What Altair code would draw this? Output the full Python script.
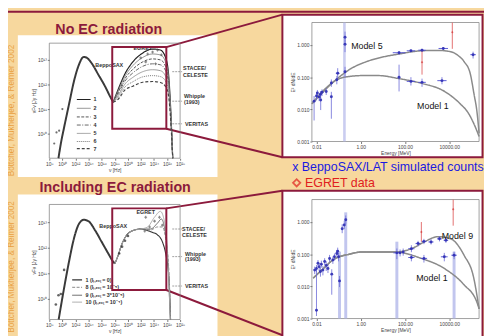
import json
import altair as alt
import pandas as pd

W, H = 484, 328
MAROON = "#8c1a3c"
BG = "#f7d89e"
ORANGE = "#e9a040"
FONT = "Liberation Sans"

# ---------------- left panels (log10 nu [Hz], log10 nuFnu [Jy Hz]) ----------------
TL_SYN_LNU = [9.40, 9.76, 10.26, 11.01, 11.76, 12.51, 13.26, 13.76, 14.51, 15.52, 16.53, 17.28, 17.77]
TL_SYN_LF = [9.00, 9.59, 10.25, 11.19, 12.12, 12.79, 13.12, 13.08, 12.85, 12.39, 11.92, 11.52, 11.28]
TL_IC_LNU = [17.77, 18.53, 19.58, 20.78, 22.29, 23.79, 24.99, 25.74, 26.20, 26.50, 26.87]
TL_IC_LF = {
    "1": [11.28, 11.80, 12.44, 12.92, 13.28, 13.44, 13.40, 13.12, 12.52, 11.32, 9.0],
    "2": [11.28, 11.74, 12.34, 12.77, 13.10, 13.24, 13.20, 12.94, 12.38, 11.24, 9.0],
    "3": [11.28, 11.68, 12.24, 12.62, 12.92, 13.04, 13.00, 12.76, 12.24, 11.16, 9.0],
    "4": [11.28, 11.62, 12.14, 12.47, 12.74, 12.84, 12.80, 12.58, 12.10, 11.08, 9.0],
    "5": [11.28, 11.55, 12.02, 12.29, 12.52, 12.60, 12.56, 12.36, 11.93, 10.98, 9.0],
    "6": [11.28, 11.48, 11.90, 12.11, 12.31, 12.36, 12.32, 12.15, 11.76, 10.89, 9.0],
    "7": [11.28, 11.40, 11.78, 11.93, 12.09, 12.12, 12.08, 11.93, 11.60, 10.79, 9.0],
}
TL_LEG_LNU = [12.21, 14.32]
TL_LEG_LABEL_LNU = 14.77
TL_LEG_LF = [11.39, 11.03, 10.68, 10.35, 10.01, 9.68, 9.39]
TL_RADIO_LNU = [8.75, 9.10, 9.50, 10.0]
TL_RADIO_LF = [9.6, 10.05, 10.12, 11.0]
TL_EGRET_LNU = [21.98, 23.04, 23.79, 24.54, 25.14, 22.74, 24.24]
TL_EGRET_LF = [13.08, 13.24, 13.32, 13.40, 13.20, 12.92, 12.84]
TL_NOTES = ["BeppoSAX", "EGRET", "STACEE/", "CELESTE", "Whipple", "(1993)", "VERITAS"]
TL_NOTES_LNU = [17.17, 22.29, 28.45, 28.45, 28.60, 28.60, 28.75]
TL_NOTES_LF = [12.80, 13.48, 12.68, 12.40, 11.52, 11.28, 10.40]
TL_NOTES_ALIGN = ["center", "center", "left", "left", "left", "left", "left"]
TL_SENS_LF = [12.52, 11.32, 10.40]

LB_SYN_LNU = [9.43, 10.26, 11.01, 11.76, 12.51, 13.26, 14.02, 15.02, 16.02, 17.02, 17.77, 18.03]
LB_SYN_LF = [9.19, 10.42, 11.45, 12.35, 12.92, 13.09, 13.03, 12.67, 12.22, 11.77, 11.45, 11.38]
LB_IC_BASE_LNU = [18.03, 18.53, 19.02, 19.77, 20.78, 22.03]
LB_IC_BASE_LF = [11.38, 11.70, 12.09, 12.47, 12.67, 12.73]
LB_IC_TAIL = {
    "1": ([23.53, 24.54, 25.29, 25.79, 26.30, 26.54], [12.62, 12.50, 12.23, 11.77, 10.81, 9.19]),
    "8": ([23.49, 24.54, 25.29, 25.79, 26.30, 26.54], [12.69, 12.81, 12.81, 12.35, 11.00, 9.19]),
    "9": ([23.49, 24.54, 25.14, 25.59, 26.05, 26.50], [12.73, 12.96, 13.12, 12.81, 11.77, 9.19]),
    "10": ([23.04, 24.08, 24.99, 25.59, 26.05, 26.50], [12.81, 13.19, 13.42, 13.04, 11.96, 9.19]),
}
LB_LEG_TEXT = ["1 (lₗ,ₑₓₜ = 0)", "8 (lₗ,ₑₓₜ = 10⁻⁵)", "9 (lₗ,ₑₓₜ = 3*10⁻⁵)", "10 (lₗ,ₑₓₜ = 10⁻⁴)"]
LB_LEG_LNU = [11.50, 13.01]
LB_LEG_LABEL_LNU = 13.52
LB_LEG_LF = [10.74, 10.45, 10.14, 9.87]
LB_RADIO_LNU = [9.0, 9.40, 9.76, 10.26]
LB_RADIO_LF = [9.78, 10.14, 10.19, 11.13]
LB_SAX_LNU = [18.68, 19.13, 19.58, 20.03]
LB_SAX_LF = [11.77, 12.04, 12.27, 12.46]
LB_EGRET_LNU = [22.59, 23.34, 24.09, 24.84, 25.29, 22.74]
LB_EGRET_LF = [12.65, 12.81, 13.04, 13.19, 12.88, 13.19]
LB_NOTES = ["BeppoSAX", "EGRET", "STACEE/", "CELESTE", "Whipple", "(1993)", "VERITAS"]
LB_NOTES_LNU = [17.77, 22.74, 28.30, 28.30, 28.75, 28.75, 28.75]
LB_NOTES_LF = [12.85, 13.38, 12.73, 12.50, 11.77, 11.54, 10.50]
LB_NOTES_ALIGN = ["center", "center", "left", "left", "left", "left", "left"]
LB_SENS_LF = [12.73, 11.65, 10.50]
SENS_LNU = [26.8, 28.3]

# ---------------- right panels (Energy [MeV], E^2 dN/dE) ----------------
RT_M5_E = [0.0062, 0.0234, 0.089, 0.37, 1.74, 11, 50, 525, 3000, 11500, 26300, 47900, 89000, 132000, 182000, 224000]
RT_M5_Y = [0.0148, 0.039, 0.091, 0.186, 0.30, 0.43, 0.52, 0.66, 0.68, 0.62, 0.46, 0.30, 0.13, 0.030, 0.0078, 0.0018]
RT_M1_E = [0.0062, 0.0234, 0.089, 0.30, 1.15, 6.5, 50, 525, 6200, 31600, 72000, 132000, 224000]
RT_M1_Y = [0.0148, 0.042, 0.085, 0.105, 0.112, 0.112, 0.091, 0.065, 0.036, 0.0148, 0.0078, 0.0035, 0.00144]
RT_E = [0.0078, 0.010, 0.011, 0.0132, 0.0151, 0.0178, 0.0155, 0.0275, 0.047, 0.047, 0.083, 0.091,
        0.195, 0.195, 0.195, 54, 186, 590, 5400, 120000, 54, 186, 590, 4700]
RT_Y = [0.018, 0.026, 0.032, 0.024, 0.0295, 0.034, 0.0195, 0.036, 0.0245, 0.066, 0.083, 0.132,
        0.148, 1.05, 1.74, 0.575, 0.66, 0.69, 0.78, 0.50, 0.10, 0.074, 0.069, 0.078]
RT_YLO = [0.0045, 0.019, 0.024, 0.018, 0.022, 0.026, 0.0095, 0.028, 0.0051, 0.050, 0.060, 0.090,
          0.100, 0.60, 1.2, 0.50, 0.60, 0.62, 0.70, 0.38, 0.036, 0.055, 0.050, 0.060]
RT_YHI = [0.026, 0.034, 0.040, 0.030, 0.037, 0.042, 0.028, 0.045, 0.035, 0.085, 0.11, 0.19,
          0.21, 1.5, 2.6, 0.65, 0.72, 0.76, 0.86, 0.62, 0.245, 0.10, 0.090, 0.10]
RT_HB_Y = [0.575, 0.66, 0.69, 0.78, 0.50, 0.074, 0.069, 0.078, 0.132]
RT_HB_LO = [28, 120, 400, 3300, 90000, 120, 400, 2900, 0.075]
RT_HB_HI = [105, 290, 870, 8800, 160000, 290, 870, 7600, 0.11]
RT_BAND_LO = [0.16]
RT_BAND_HI = [0.21]
RT_RED_E = [590, 13800]
RT_RED_Y = [0.29, 2.5]
RT_RED_LO = [0.12, 0.76]
RT_RED_HI = [0.69, 5.0]
RT_NOTES = ["Model 5", "Model 1"]
RT_NOTES_E = [1.9, 1820]
RT_NOTES_Y = [0.93, 0.0126]

RB_M1_E = [0.0071, 0.019, 0.055, 0.30, 1.17, 36, 550, 6000, 46800, 182000, 224000]
RB_M1_Y = [0.018, 0.034, 0.066, 0.100, 0.117, 0.117, 0.074, 0.036, 0.0112, 0.0031, 0.0020]
RB_M9_E = [0.0071, 0.019, 0.055, 0.30, 1.17, 36, 195, 776, 3020, 11700, 46800, 129000, 224000]
RB_M9_Y = [0.018, 0.034, 0.066, 0.100, 0.117, 0.117, 0.148, 0.245, 0.35, 0.30, 0.093, 0.018, 0.0020]
RB_E = [0.0083, 0.010, 0.0117, 0.0132, 0.0151, 0.0166, 0.0195, 0.0234, 0.0275, 0.033, 0.039, 0.049,
        0.055, 0.065, 0.083, 0.091, 0.10, 0.11, 0.010, 0.145, 0.18, 0.21, 43, 60, 83, 195, 195, 390,
        720, 720, 1510, 3630, 7100, 6000, 16600]
RB_Y = [0.032, 0.036, 0.052, 0.041, 0.029, 0.049, 0.032, 0.059, 0.045, 0.036, 0.074, 0.024,
        0.066, 0.083, 0.105, 0.123, 0.083, 0.0148, 0.0018, 0.62, 0.81, 1.17, 0.11, 0.11, 0.117, 0.148,
        0.079, 0.214, 0.25, 0.074, 0.24, 0.30, 0.27, 0.083, 0.093]
RB_YLO = [0.024, 0.028, 0.040, 0.030, 0.020, 0.038, 0.022, 0.046, 0.030, 0.026, 0.058, 0.0055,
          0.050, 0.064, 0.082, 0.095, 0.060, 0.0095, 0.0012, 0.45, 0.60, 0.85, 0.070, 0.085, 0.090,
          0.115, 0.060, 0.175, 0.205, 0.055, 0.200, 0.250, 0.225, 0.060, 0.070]
RB_YHI = [0.041, 0.046, 0.066, 0.053, 0.039, 0.063, 0.043, 0.075, 0.060, 0.048, 0.095, 0.034,
          0.085, 0.105, 0.135, 0.160, 0.108, 0.021, 0.032, 0.85, 1.10, 1.60, 0.150, 0.140, 0.150,
          0.190, 0.100, 0.260, 0.300, 0.095, 0.290, 0.360, 0.330, 0.110, 0.120]
RB_HB_Y = [0.148, 0.079, 0.214, 0.25, 0.074, 0.24, 0.30, 0.27, 0.083, 0.093, 0.11]
RB_HB_LO = [140, 140, 300, 560, 520, 1150, 2800, 5600, 4200, 12500, 30]
RB_HB_HI = [270, 270, 500, 930, 1000, 1950, 4700, 9000, 8500, 22000, 60]
RB_BAND_E = [0.11, 0.21, 43, 16600]
RB_BAND_TOP = [0.12, 2.0, 0.245, 0.12]
RB_RED_E = [550, 15100]
RB_RED_Y = [0.49, 2.5]
RB_RED_LO = [0.245, 0.77]
RB_RED_HI = [1.0, 5.0]
RB_NOTES = ["Model 9", "Model 1"]
RB_NOTES_E = [23400, 1660]
RB_NOTES_Y = [0.37, 0.018]

E_TICKS = [0.01, 1, 100, 10000]
Y_TICKS = [0.001, 0.01, 0.1, 1]

# ---------------- helpers ----------------
SUP = str.maketrans("0123456789", "⁰¹²³⁴⁵⁶⁷⁸⁹")
EXP_LABELS = ["10" + str(n).translate(SUP) for n in range(30)]
EXP_EXPR = json.dumps(EXP_LABELS, ensure_ascii=False) + "[round(datum.value)]"


def sc_lin(dom, rng):
    return alt.Scale(type="linear", domain=dom, range=rng, zero=False, nice=False)


def sc_log(dom, rng):
    return alt.Scale(type="log", domain=dom, range=rng, nice=False)


TLX = sc_lin([8, 28], [42, 175]); TLY = sc_lin([9.0, 13.68], [150, 33])
LBX = sc_lin([8, 28], [42, 175]); LBY = sc_lin([9.19, 13.69], [314, 197])
RTX = sc_log([0.0062, 224000], [309, 479]); RTY = sc_log([0.001, 5.0], [133, 12])
RBX = sc_log([0.0062, 224000], [309, 479]); RBY = sc_log([0.001, 5.0], [313, 192])

AX = dict(labelFontSize=5, labelColor="#444", tickSize=2, tickColor="#777", domain=False,
          grid=False, labelPadding=1, labelFlush=False, labelOverlap=False, titleFontSize=5,
          titleFontWeight="normal", titleColor="#444", titlePadding=1, zindex=2)


def ax_b(ypix, **kw):
    return alt.Axis(orient="bottom", offset=ypix - H, **{**AX, **kw})


def ax_l(xpix, **kw):
    return alt.Axis(orient="left", offset=-xpix, **{**AX, **kw})


def enc(xs, ys, xf="x", yf="y", xaxis=None, yaxis=None):
    return dict(x=alt.X(f"{xf}:Q", scale=xs, axis=xaxis), y=alt.Y(f"{yf}:Q", scale=ys, axis=yaxis))


def line(df, xs, ys, color, width=1.0, dash=(1, 0), **kw):
    return alt.Chart(df).mark_line(color=color, strokeWidth=width, strokeDash=list(dash),
                                   interpolate="monotone").encode(**enc(xs, ys, **kw))


def frame(x0, x1, y0, y1, stroke="#777", width=0.7):
    return alt.Chart(pd.DataFrame({"k": [0]})).mark_rect(fillOpacity=0, stroke=stroke, strokeWidth=width).encode(
        x=alt.value(x0), x2=alt.value(x1), y=alt.value(y0), y2=alt.value(y1))


def notes(df, xs, ys, **mk):
    return alt.Chart(df).mark_text(**mk).encode(**enc(xs, ys), text="t:N")


def axes_layer(xs, ys, xaxis, yaxis, xv, yv):
    # invisible points at the panel's tick values, carrying the panel's axes
    df = pd.DataFrame({"x": [xv[0], xv[-1]], "y": [yv[0], yv[-1]]})
    return alt.Chart(df).mark_point(opacity=0).encode(**enc(xs, ys, xaxis=xaxis, yaxis=yaxis))


layers = []

# ---------------- slide decoration (pixel layout) ----------------
PX = dict(scale=None)
layers.append(alt.Chart(pd.DataFrame({"x": [10, 10], "x2": [213, 213], "y": [25, 187], "y2": [169, 332]})).mark_rect(
    color="white").encode(x=alt.X("x:Q", **PX), x2="x2:Q", y=alt.Y("y:Q", **PX), y2="y2:Q"))
layers.append(alt.Chart(pd.DataFrame({"x": [279, 279], "x2": [482.5, 482.5], "y": [4, 183], "y2": [149, 334]})).mark_rect(
    fill="white", stroke=MAROON, strokeWidth=2).encode(x=alt.X("x:Q", **PX), x2="x2:Q", y=alt.Y("y:Q", **PX), y2="y2:Q"))
layers.append(alt.Chart(pd.DataFrame({"x": [161] * 4, "y": [37, 120, 201, 284], "x2": [279] * 4,
                                      "y2": [4, 149, 183, 330]})).mark_rule(color=MAROON, strokeWidth=2).encode(
    x=alt.X("x:Q", **PX), x2="x2:Q", y=alt.Y("y:Q", **PX), y2="y2:Q"))

# ---------------- top-left panel ----------------
layers.append(frame(42, 175, 33, 150))
layers.append(axes_layer(TLX, TLY,
                         ax_b(150, values=list(range(8, 29, 2)), labelExpr=EXP_EXPR, title="ν [Hz]"),
                         ax_l(42, values=[10, 11, 12, 13], labelExpr=EXP_EXPR, title="νFν [Jy Hz]"),
                         [8, 28], [10, 13]))
layers.append(line(pd.DataFrame({"x": TL_SYN_LNU, "y": TL_SYN_LF}), TLX, TLY, "#3a3a3a", 2.0))
TL_STYLE = {"1": ("#222", 1.2, (1, 0)), "2": ("#888", 1.0, (1, 0)), "3": ("#555", 1.0, (3, 1.5)),
            "4": ("#666", 1.0, (4, 1.5, 1, 1.5)), "5": ("#999", 1.0, (1, 0)), "6": ("#777", 1.0, (1, 1)),
            "7": ("#444", 1.2, (3, 2))}
for i, (m, lfs) in enumerate(TL_IC_LF.items()):
    c, w, d = TL_STYLE[m]
    layers.append(line(pd.DataFrame({"x": TL_IC_LNU, "y": lfs}), TLX, TLY, c, w, d))
    layers.append(line(pd.DataFrame({"x": TL_LEG_LNU, "y": [TL_LEG_LF[i]] * 2}), TLX, TLY, c, w, d))
layers.append(notes(pd.DataFrame({"x": [TL_LEG_LABEL_LNU] * 7, "y": TL_LEG_LF, "t": list(TL_IC_LF)}),
                    TLX, TLY, align="left", baseline="middle", fontSize=5.5, fontWeight="bold", color="#333"))
layers.append(alt.Chart(pd.DataFrame({"x": TL_RADIO_LNU, "y": TL_RADIO_LF})).mark_point(
    shape="circle", filled=True, size=5, color="#333").encode(**enc(TLX, TLY)))
layers.append(alt.Chart(pd.DataFrame({"x": TL_EGRET_LNU, "y": TL_EGRET_LF})).mark_point(
    shape="cross", filled=True, size=8, color="#555").encode(**enc(TLX, TLY)))
for lf in TL_SENS_LF:
    layers.append(line(pd.DataFrame({"x": SENS_LNU, "y": [lf, lf]}), TLX, TLY, "#777", 0.7, (2, 1)))
for al in ("center", "left"):
    sub = pd.DataFrame({"x": TL_NOTES_LNU, "y": TL_NOTES_LF, "t": TL_NOTES, "a": TL_NOTES_ALIGN})
    sub = sub[sub.a == al]
    layers.append(notes(sub, TLX, TLY, align=al, baseline="middle", fontSize=5.5, fontWeight="bold", color="#333"))

# ---------------- bottom-left panel ----------------
layers.append(frame(42, 175, 197, 314))
layers.append(axes_layer(LBX, LBY,
                         ax_b(314, values=list(range(8, 29, 2)), labelExpr=EXP_EXPR, title="ν [Hz]"),
                         ax_l(42, values=[10, 11, 12, 13], labelExpr=EXP_EXPR, title="νFν [Jy Hz]"),
                         [8, 28], [10, 13]))
layers.append(line(pd.DataFrame({"x": LB_SYN_LNU, "y": LB_SYN_LF}), LBX, LBY, "#3a3a3a", 2.0))
LB_STYLE = {"1": ("#333", 1.1, (1, 0)), "8": ("#888", 1.0, (3, 1.5)), "9": ("#666", 1.0, (1, 0)),
            "10": ("#aaa", 1.0, (1, 0))}
for i, (m, (tx, ty)) in enumerate(LB_IC_TAIL.items()):
    c, w, d = LB_STYLE[m]
    layers.append(line(pd.DataFrame({"x": LB_IC_BASE_LNU + tx, "y": LB_IC_BASE_LF + ty}), LBX, LBY, c, w, d))
    layers.append(line(pd.DataFrame({"x": LB_LEG_LNU, "y": [LB_LEG_LF[i]] * 2}), LBX, LBY, c, w, d))
layers.append(notes(pd.DataFrame({"x": [LB_LEG_LABEL_LNU] * 4, "y": LB_LEG_LF, "t": LB_LEG_TEXT}),
                    LBX, LBY, align="left", baseline="middle", fontSize=5.5, fontWeight="bold", color="#333"))
layers.append(alt.Chart(pd.DataFrame({"x": LB_RADIO_LNU + LB_SAX_LNU, "y": LB_RADIO_LF + LB_SAX_LF})).mark_point(
    shape="circle", filled=True, size=7, color="#222").encode(**enc(LBX, LBY)))
layers.append(alt.Chart(pd.DataFrame({"x": LB_EGRET_LNU, "y": LB_EGRET_LF})).mark_point(
    shape="cross", filled=True, size=8, color="#555").encode(**enc(LBX, LBY)))
for lf in LB_SENS_LF:
    layers.append(line(pd.DataFrame({"x": SENS_LNU, "y": [lf, lf]}), LBX, LBY, "#777", 0.7, (2, 1)))
for al in ("center", "left"):
    sub = pd.DataFrame({"x": LB_NOTES_LNU, "y": LB_NOTES_LF, "t": LB_NOTES, "a": LB_NOTES_ALIGN})
    sub = sub[sub.a == al]
    layers.append(notes(sub, LBX, LBY, align=al, baseline="middle", fontSize=5.5, fontWeight="bold", color="#333"))


# ---------------- right panels ----------------
def gamma_layers(xs, ys, ytop_pix, ybot_pix, curves, E, Y, YLO, YHI, HB_Y, HB_LO, HB_HI,
                 band, RED, NOTES):
    L = [frame(309, 479, ytop_pix, ybot_pix), band]
    L.append(axes_layer(xs, ys,
                        ax_b(ybot_pix, values=E_TICKS, format=".2f", title="Energy [MeV]"),
                        ax_l(309, values=Y_TICKS, format=".3f", title="E² dN/dE"),
                        E_TICKS, Y_TICKS))
    for ce, cy in curves:
        L.append(line(pd.DataFrame({"x": ce, "y": cy}), xs, ys, "#8a8a8a", 1.5))
    pts = pd.DataFrame({"x": E, "y": Y, "lo": YLO, "hi": YHI})
    L.append(alt.Chart(pts).mark_rule(color="#6a6ad6", strokeWidth=0.8).encode(
        x=alt.X("x:Q", scale=xs, axis=None), y=alt.Y("lo:Q", scale=ys, axis=None), y2="hi:Q"))
    hb = pd.DataFrame({"lo": HB_LO, "hi": HB_HI, "y": HB_Y})
    L.append(alt.Chart(hb).mark_rule(color="#4a4ad0", strokeWidth=0.9).encode(
        x=alt.X("lo:Q", scale=xs, axis=None), x2="hi:Q", y=alt.Y("y:Q", scale=ys, axis=None)))
    re, ry, rlo, rhi = RED
    red = pd.DataFrame({"x": re, "y": ry, "lo": rlo, "hi": rhi})
    L.append(alt.Chart(red).mark_rule(color="#e06060", strokeWidth=0.9).encode(
        x=alt.X("x:Q", scale=xs, axis=None), y=alt.Y("lo:Q", scale=ys, axis=None), y2="hi:Q"))
    L.append(alt.Chart(red).mark_point(shape="diamond", filled=True, size=6, color="#d03030").encode(
        **enc(xs, ys)))
    L.append(alt.Chart(pts).mark_point(shape="circle", filled=True, size=9, color="#2f2fb4", opacity=0.9).encode(
        **enc(xs, ys)))
    nt, ne, ny = NOTES
    L.append(notes(pd.DataFrame({"x": ne, "y": ny, "t": nt}), xs, ys, align="center", baseline="middle",
                   fontSize=9, color="#111"))
    return L


rt_band = alt.Chart(pd.DataFrame({"lo": RT_BAND_LO, "hi": RT_BAND_HI})).mark_rect(
    color="#b3b8ea", opacity=0.7).encode(x=alt.X("lo:Q", scale=RTX, axis=None), x2="hi:Q",
                                          y=alt.value(12), y2=alt.value(133))
rb_band = alt.Chart(pd.DataFrame({"x": RB_BAND_E, "top": RB_BAND_TOP})).mark_rule(
    color="#b3b8ea", strokeWidth=3, opacity=0.8).encode(x=alt.X("x:Q", scale=RBX, axis=None),
                                                        y=alt.Y("top:Q", scale=RBY, axis=None), y2=alt.value(313))

layers += gamma_layers(RTX, RTY, 12, 133, [(RT_M5_E, RT_M5_Y), (RT_M1_E, RT_M1_Y)],
                       RT_E, RT_Y, RT_YLO, RT_YHI, RT_HB_Y, RT_HB_LO, RT_HB_HI, rt_band,
                       (RT_RED_E, RT_RED_Y, RT_RED_LO, RT_RED_HI), (RT_NOTES, RT_NOTES_E, RT_NOTES_Y))
layers += gamma_layers(RBX, RBY, 192, 313, [(RB_M9_E, RB_M9_Y), (RB_M1_E, RB_M1_Y)],
                       RB_E, RB_Y, RB_YLO, RB_YHI, RB_HB_Y, RB_HB_LO, RB_HB_HI, rb_band,
                       (RB_RED_E, RB_RED_Y, RB_RED_LO, RB_RED_HI), (RB_NOTES, RB_NOTES_E, RB_NOTES_Y))

# ---------------- overlays ----------------
layers.append(alt.Chart(pd.DataFrame({"x": [106, 106], "x2": [161, 161], "y": [37, 201], "y2": [120, 284]})).mark_rect(
    fillOpacity=0, stroke=MAROON, strokeWidth=2).encode(x=alt.X("x:Q", **PX), x2="x2:Q", y=alt.Y("y:Q", **PX), y2="y2:Q"))
layers.append(alt.Chart(pd.DataFrame({"t": ["No EC radiation", "Including EC radiation"], "x": [102.5, 109], "y": [24, 184]})).mark_text(
    fontSize=14.5, fontWeight="bold", color=MAROON, align="center", baseline="alphabetic").encode(
    x=alt.X("x:Q", **PX), y=alt.Y("y:Q", **PX), text="t:N"))
layers.append(alt.Chart(pd.DataFrame({"t": ["Böttcher, Mukherjee, & Reimer 2002"] * 2, "x": [4, 4], "y": [101.5, 260.5]})).mark_text(
    fontSize=8.3, color=ORANGE, angle=270, align="center", baseline="middle").encode(
    x=alt.X("x:Q", **PX), y=alt.Y("y:Q", **PX), text="t:N"))
layers.append(alt.Chart(pd.DataFrame({"t": ["x BeppoSAX/LAT simulated counts"], "x": [289], "y": [163]})).mark_text(
    fontSize=12.6, color="#1a1ae0", align="left", baseline="alphabetic").encode(
    x=alt.X("x:Q", **PX), y=alt.Y("y:Q", **PX), text="t:N"))
layers.append(alt.Chart(pd.DataFrame({"t": ["EGRET data"], "x": [302], "y": [179]})).mark_text(
    fontSize=12.6, color="#e0201e", align="left", baseline="alphabetic").encode(
    x=alt.X("x:Q", **PX), y=alt.Y("y:Q", **PX), text="t:N"))
layers.append(alt.Chart(pd.DataFrame({"x": [293.5], "y": [175]})).mark_point(
    shape="diamond", filled=False, size=55, color="#e0201e", strokeWidth=1.8).encode(
    x=alt.X("x:Q", **PX), y=alt.Y("y:Q", **PX)))
layers.append(alt.Chart(pd.DataFrame({"k": [0]})).mark_rect(color=MAROON).encode(
    x=alt.value(0), x2=alt.value(W), y=alt.value(0), y2=alt.value(2)))

chart = alt.layer(*layers).resolve_scale(x="independent", y="independent").resolve_axis(
    x="independent", y="independent").properties(
    width=W, height=H, padding=0, autosize=alt.AutoSizeParams(type="none"), background=BG
).configure(font=FONT).configure_view(stroke=None)

chart.save("out.html", embed_options={"renderer": "svg", "actions": False})
